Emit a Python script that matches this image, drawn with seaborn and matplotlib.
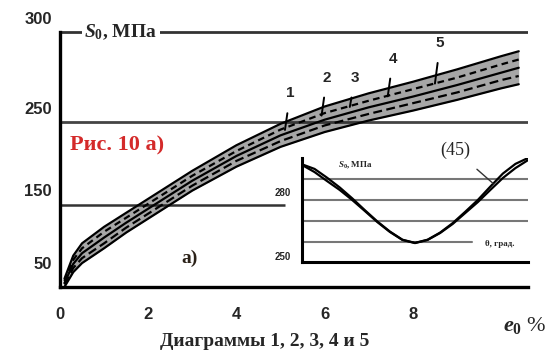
import numpy as np
import pandas as pd
import seaborn as sns
import matplotlib.pyplot as plt

# main diagram: e0 (%) vs S0 for specimens 1..5
e0 = [0.1, 0.3, 0.5, 1, 1.5, 2, 3, 4, 5, 6, 7, 8, 9, 10, 10.4]
s0_1 = [50, 68, 79, 97, 116, 133, 167, 196, 220, 238, 252, 264, 277, 291, 296]
s0_2 = [53, 73, 85, 103, 122, 139, 173, 203, 227, 246, 260, 273, 286, 301, 306]
s0_3 = [55, 78, 91, 110, 128, 145, 179, 209, 234, 253, 268, 281, 295, 310, 316]
s0_4 = [57, 83, 97, 117, 134, 151, 185, 215, 241, 261, 276, 290, 304, 320, 326]
s0_5 = [60, 88, 103, 123, 140, 157, 191, 222, 248, 269, 285, 299, 314, 330, 336]
curve_names = ["1", "2", "3", "4", "5"]
label_e0 = [5.22, 6.05, 6.69, 7.55, 8.62]
label_s0 = [285, 304, 304, 327, 346]

# inset: S0 vs angle
theta = [0, 5, 10, 15, 20, 25, 30, 35, 40, 45, 50, 55, 60, 65, 70, 75, 80, 85, 90]
inset_a = [291.7, 288.3, 284.0, 279.8, 275.0, 269.8, 264.5, 259.8, 256.0, 254.5,
           256.0, 259.3, 263.6, 268.8, 274.0, 279.8, 285.5, 290.2, 294.0]
inset_b = [292.0, 289.8, 285.6, 281.0, 275.8, 270.2, 264.8, 260.0, 256.1, 254.6,
           256.1, 259.5, 264.0, 269.4, 275.0, 281.4, 287.6, 292.2, 295.0]

x_ticks = [0, 2, 4, 6, 8, 10]
x_tick_labels = ["0", "2", "4", "6", "8", ""]
y_lines = [359, 250, 150, 50]
y_line_labels = ["300", "250", "150", "50"]

sns.set_style("white")
plt.rcParams["font.family"] = ["Liberation Sans", "DejaVu Sans"]
plt.rcParams["mathtext.fontset"] = "custom"
plt.rcParams["mathtext.rm"] = "Liberation Serif:bold"
plt.rcParams["mathtext.it"] = "Liberation Serif:italic:bold"

W, H = 555, 353
fig = plt.figure(figsize=(W / 100, H / 100), dpi=100)
ax = fig.add_axes([60 / W, 66 / H, 468 / W, 272 / H])

series = [s0_1, s0_2, s0_3, s0_4, s0_5]
df = pd.concat(
    [pd.DataFrame({"e0": e0, "S0": s, "curve": n}) for n, s in zip(curve_names, series)],
    ignore_index=True,
)

ax.fill_between(e0, s0_1, s0_5, color="#222222", alpha=0.4, lw=0, zorder=1)
sns.lineplot(
    data=df, x="e0", y="S0", hue="curve", style="curve",
    palette=["black"] * 5,
    dashes={"1": "", "2": (4, 2), "3": "", "4": (3, 2), "5": ""},
    linewidth=1.6, legend=False, ax=ax, sort=False, zorder=3,
)

ax.set_xlim(0, 10.61)
ax.set_ylim(50, 380)

# horizontal guide lines
ax.axhline(y_lines[0], color="#333333", lw=2, zorder=0)
ax.axhline(y_lines[1], color="#444444", lw=2, zorder=0)
ax.hlines(y_lines[2], 0, 5.1, color="#333333", lw=1.8, zorder=0)

for val, txt in zip(y_lines, y_line_labels):
    ax.annotate(
        txt, xy=(0, val), xycoords=("axes fraction", "data"),
        xytext=(-6, 4 if val > 50 else 11), textcoords="offset points",
        ha="right", va="bottom", fontsize=12, fontweight="bold",
        annotation_clip=False,
    )

for spine in ["top", "right"]:
    ax.spines[spine].set_visible(False)
ax.spines["left"].set_bounds(50, y_lines[0])
for spine in ["left", "bottom"]:
    ax.spines[spine].set_linewidth(2.4)
    ax.spines[spine].set_color("black")

ax.set_yticks([])
ax.set_xticks(x_ticks)
ax.set_xticklabels(x_tick_labels, fontsize=12, fontweight="bold")
ax.tick_params(axis="x", direction="inout", length=7, width=1.8, pad=11)
ax.set_xlabel("")
ax.set_ylabel("")

# curve numbers with leader strokes
top_curve = s0_5
for name, lx, ly in zip(curve_names, label_e0, label_s0):
    cy = np.interp(lx - 0.1, e0, top_curve) - 10
    ax.annotate(
        name, xy=(lx - 0.12, cy), xytext=(lx, ly),
        ha="center", va="center", fontsize=11, fontweight="bold",
        arrowprops=dict(arrowstyle="-", lw=1.4, color="black", shrinkA=7, shrinkB=0),
        zorder=4,
    )

ax.text(0.55, y_lines[0], "$S_0$, МПа", fontsize=14, va="center", ha="left",
        fontfamily="Liberation Serif", fontweight="bold",
        bbox=dict(facecolor="white", edgecolor="none", pad=2), zorder=2)

fig.text(70 / W, 1 - 145 / H, "Рис. 10 а)", color="#d42a2a", fontsize=16,
         fontfamily="Liberation Serif", fontweight="bold", va="center", ha="left")
fig.text(190 / W, 1 - 258 / H, "а)", color="#2b2118", fontsize=14,
         fontfamily="Liberation Serif", fontweight="bold", va="center", ha="center")
fig.text(525 / W, 1 - 325 / H, "$e_0$ %", fontsize=16, va="center", ha="center",
         fontfamily="Liberation Serif")
fig.text(265 / W, 1 - 341 / H, "Диаграммы 1, 2, 3, 4 и 5", fontsize=14,
         fontfamily="Liberation Serif", fontweight="bold", va="center", ha="center")

# inset
ax2 = fig.add_axes([302 / W, 91 / H, 226 / W, 104 / H])
df2 = pd.concat(
    [pd.DataFrame({"theta": theta, "S0": inset_a, "run": "a"}),
     pd.DataFrame({"theta": theta, "S0": inset_b, "run": "b"})],
    ignore_index=True,
)
sns.lineplot(data=df2, x="theta", y="S0", hue="run", palette=["black", "black"],
             linewidth=1.6, legend=False, ax=ax2, sort=False)
ax2.set_xlim(0, 90)
ax2.set_ylim(245.5, 295)
for val in [285, 275, 265]:
    ax2.axhline(val, color="#777777", lw=1.5, zorder=0)
ax2.axhline(255, xmax=0.75, color="#777777", lw=1.5, zorder=0)
ax2.set_facecolor("none")
for spine in ["top", "right"]:
    ax2.spines[spine].set_visible(False)
for spine in ["left", "bottom"]:
    ax2.spines[spine].set_linewidth(2.2)
    ax2.spines[spine].set_color("black")
ax2.set_xticks([])
ax2.set_yticks([])
ax2.set_xlabel("")
ax2.set_ylabel("")

fig.text(355 / W, 1 - 165 / H, "$S_0$, МПа", fontsize=6.5, fontfamily="Liberation Serif",
         fontweight="bold", va="center", ha="center")
fig.text(283 / W, 1 - 193 / H, "280", fontsize=7, fontweight="bold", va="center", ha="center")
fig.text(283 / W, 1 - 257 / H, "250", fontsize=7, fontweight="bold", va="center", ha="center")
fig.text(500 / W, 1 - 244 / H, "θ, град.", fontsize=6.5, fontweight="bold",
         fontfamily="Liberation Serif", va="center", ha="center")
ax2.annotate("(45)", xy=(76, 283), xycoords="data",
             xytext=(455 / W, 1 - 150 / H), textcoords="figure fraction",
             fontsize=13, fontfamily="Liberation Serif", ha="center", va="center",
             arrowprops=dict(arrowstyle="-", lw=1, color="#333333", shrinkA=8, shrinkB=0))

fig.savefig("out.png", dpi=100)
